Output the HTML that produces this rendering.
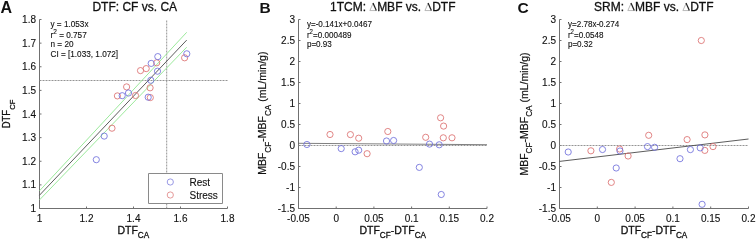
<!DOCTYPE html>
<html><head><meta charset="utf-8"><style>
html,body{margin:0;padding:0;background:#fff;width:756px;height:240px;overflow:hidden;position:relative}
svg{will-change:transform;-webkit-font-smoothing:antialiased}
</style></head><body>
<svg width="756" height="240" viewBox="0 0 756 240" style="position:absolute;left:0;top:0">
<rect width="756" height="240" fill="#fff"/>
<g font-family='"Liberation Sans", sans-serif' fill="#111" stroke-linejoin="round">
<path d="M39.5 19.5 V208.5 H227.5" fill="none" stroke="#707070" stroke-width="1"/>
<path d="M39.5 208.5 v-2" stroke="#707070" stroke-width="1"/>
<text x="39.50" y="221.50" font-size="10" text-anchor="middle" stroke="#111" stroke-width="0.12" >1</text>
<path d="M86.5 208.5 v-2" stroke="#707070" stroke-width="1"/>
<text x="86.50" y="221.50" font-size="10" text-anchor="middle" stroke="#111" stroke-width="0.12" >1.2</text>
<path d="M133.5 208.5 v-2" stroke="#707070" stroke-width="1"/>
<text x="133.50" y="221.50" font-size="10" text-anchor="middle" stroke="#111" stroke-width="0.12" >1.4</text>
<path d="M180.5 208.5 v-2" stroke="#707070" stroke-width="1"/>
<text x="180.50" y="221.50" font-size="10" text-anchor="middle" stroke="#111" stroke-width="0.12" >1.6</text>
<path d="M227.5 208.5 v-2" stroke="#707070" stroke-width="1"/>
<text x="227.50" y="221.50" font-size="10" text-anchor="middle" stroke="#111" stroke-width="0.12" >1.8</text>
<path d="M39.5 208.5 h2" stroke="#707070" stroke-width="1"/>
<text x="36.00" y="212.10" font-size="10" text-anchor="end" stroke="#111" stroke-width="0.12" >1</text>
<path d="M39.5 184.87499999999997 h2" stroke="#707070" stroke-width="1"/>
<text x="36.00" y="188.47" font-size="10" text-anchor="end" stroke="#111" stroke-width="0.12" >1.1</text>
<path d="M39.5 161.25 h2" stroke="#707070" stroke-width="1"/>
<text x="36.00" y="164.85" font-size="10" text-anchor="end" stroke="#111" stroke-width="0.12" >1.2</text>
<path d="M39.5 137.625 h2" stroke="#707070" stroke-width="1"/>
<text x="36.00" y="141.22" font-size="10" text-anchor="end" stroke="#111" stroke-width="0.12" >1.3</text>
<path d="M39.5 114.00000000000003 h2" stroke="#707070" stroke-width="1"/>
<text x="36.00" y="117.60" font-size="10" text-anchor="end" stroke="#111" stroke-width="0.12" >1.4</text>
<path d="M39.5 90.375 h2" stroke="#707070" stroke-width="1"/>
<text x="36.00" y="93.97" font-size="10" text-anchor="end" stroke="#111" stroke-width="0.12" >1.5</text>
<path d="M39.5 66.74999999999997 h2" stroke="#707070" stroke-width="1"/>
<text x="36.00" y="70.35" font-size="10" text-anchor="end" stroke="#111" stroke-width="0.12" >1.6</text>
<path d="M39.5 43.12499999999997 h2" stroke="#707070" stroke-width="1"/>
<text x="36.00" y="46.72" font-size="10" text-anchor="end" stroke="#111" stroke-width="0.12" >1.7</text>
<path d="M39.5 19.5 h2" stroke="#707070" stroke-width="1"/>
<text x="36.00" y="23.10" font-size="10" text-anchor="end" stroke="#111" stroke-width="0.12" >1.8</text>
<path d="M166.7 208.5 V19.5" stroke="#888" stroke-width="0.9" stroke-dasharray="2,1"/>
<path d="M39.5 80.5 H227.5" stroke="#888" stroke-width="0.9" stroke-dasharray="2,1"/>
<path d="M39.5 195.2 L186.7 40.1" stroke="#4a4a4a" stroke-width="0.9" fill="none"/>
<path d="M39.5 190.8 L186.7 32.3" stroke="#90e690" stroke-width="0.9" fill="none"/>
<path d="M39.5 199.9 L186.7 47.2" stroke="#90e690" stroke-width="0.9" fill="none"/>
<circle cx="156.70" cy="62.80" r="3.1" fill="none" stroke="#dc7070" stroke-width="0.85"/>
<circle cx="146.20" cy="68.60" r="3.1" fill="none" stroke="#dc7070" stroke-width="0.85"/>
<circle cx="140.50" cy="70.60" r="3.1" fill="none" stroke="#dc7070" stroke-width="0.85"/>
<circle cx="150.10" cy="87.80" r="3.1" fill="none" stroke="#dc7070" stroke-width="0.85"/>
<circle cx="126.60" cy="86.90" r="3.1" fill="none" stroke="#dc7070" stroke-width="0.85"/>
<circle cx="117.40" cy="95.90" r="3.1" fill="none" stroke="#dc7070" stroke-width="0.85"/>
<circle cx="135.50" cy="95.50" r="3.1" fill="none" stroke="#dc7070" stroke-width="0.85"/>
<circle cx="150.30" cy="97.60" r="3.1" fill="none" stroke="#dc7070" stroke-width="0.85"/>
<circle cx="112.00" cy="128.20" r="3.1" fill="none" stroke="#dc7070" stroke-width="0.85"/>
<circle cx="184.60" cy="57.80" r="3.1" fill="none" stroke="#dc7070" stroke-width="0.85"/>
<circle cx="157.80" cy="56.60" r="3.1" fill="none" stroke="#7070dc" stroke-width="0.85"/>
<circle cx="151.20" cy="63.40" r="3.1" fill="none" stroke="#7070dc" stroke-width="0.85"/>
<circle cx="157.50" cy="71.20" r="3.1" fill="none" stroke="#7070dc" stroke-width="0.85"/>
<circle cx="150.80" cy="80.30" r="3.1" fill="none" stroke="#7070dc" stroke-width="0.85"/>
<circle cx="128.50" cy="93.00" r="3.1" fill="none" stroke="#7070dc" stroke-width="0.85"/>
<circle cx="122.20" cy="95.70" r="3.1" fill="none" stroke="#7070dc" stroke-width="0.85"/>
<circle cx="148.20" cy="97.20" r="3.1" fill="none" stroke="#7070dc" stroke-width="0.85"/>
<circle cx="104.20" cy="136.10" r="3.1" fill="none" stroke="#7070dc" stroke-width="0.85"/>
<circle cx="96.30" cy="159.70" r="3.1" fill="none" stroke="#7070dc" stroke-width="0.85"/>
<circle cx="186.80" cy="53.80" r="3.1" fill="none" stroke="#7070dc" stroke-width="0.85"/>
<text x="50.50" y="27.30" font-size="8.2" text-anchor="start" stroke="#111" stroke-width="0.12" >y = 1.053x</text>
<text x="50.50" y="37.70" font-size="8.2" text-anchor="start" stroke="#111" stroke-width="0.12" >r<tspan dy="-3.3" font-size="6.5">2</tspan><tspan dy="3.3"> = 0.757</tspan></text>
<text x="50.50" y="47.30" font-size="8.2" text-anchor="start" stroke="#111" stroke-width="0.12" >n = 20</text>
<text x="50.50" y="56.90" font-size="8.2" text-anchor="start" stroke="#111" stroke-width="0.12" >CI = [1.033, 1.072]</text>
<rect x="148.5" y="173.5" width="74" height="30" fill="#fff" stroke="#8a8a8a" stroke-width="1"/>
<circle cx="170.30" cy="182.00" r="3.1" fill="none" stroke="#8888e0" stroke-width="0.85"/>
<circle cx="170.30" cy="195.00" r="3.1" fill="none" stroke="#e08888" stroke-width="0.85"/>
<text x="189.50" y="185.80" font-size="10" text-anchor="start" stroke="#111" stroke-width="0.12" >Rest</text>
<text x="189.50" y="198.50" font-size="10" text-anchor="start" stroke="#111" stroke-width="0.12" >Stress</text>
<text x="134.80" y="11.30" font-size="12" text-anchor="middle" stroke="#111" stroke-width="0.3" >DTF: CF vs. CA</text>
<text x="0.6" y="13.0" font-size="16" font-weight="bold">A</text>
<text x="133.3" y="233.8" font-size="10.5" text-anchor="middle" stroke="#111" stroke-width="0.3">DTF<tspan dy="4.6" font-size="8.2">CA</tspan></text>
<text transform="translate(10,114.0) rotate(-90) scale(0.95,1)" font-size="10" text-anchor="middle" stroke="#111" stroke-width="0.3">DTF<tspan dy="4.5" font-size="8">CF</tspan></text>
<path d="M298.5 19.5 V208.5 H487.0" fill="none" stroke="#707070" stroke-width="1"/>
<path d="M298.5 208.5 v-2" stroke="#707070" stroke-width="1"/>
<text x="298.50" y="221.50" font-size="10" text-anchor="middle" stroke="#111" stroke-width="0.12" >-0.05</text>
<path d="M336.2 208.5 v-2" stroke="#707070" stroke-width="1"/>
<text x="336.20" y="221.50" font-size="10" text-anchor="middle" stroke="#111" stroke-width="0.12" >0</text>
<path d="M373.9 208.5 v-2" stroke="#707070" stroke-width="1"/>
<text x="373.90" y="221.50" font-size="10" text-anchor="middle" stroke="#111" stroke-width="0.12" >0.05</text>
<path d="M411.6 208.5 v-2" stroke="#707070" stroke-width="1"/>
<text x="411.60" y="221.50" font-size="10" text-anchor="middle" stroke="#111" stroke-width="0.12" >0.1</text>
<path d="M449.3 208.5 v-2" stroke="#707070" stroke-width="1"/>
<text x="449.30" y="221.50" font-size="10" text-anchor="middle" stroke="#111" stroke-width="0.12" >0.15</text>
<path d="M487.0 208.5 v-2" stroke="#707070" stroke-width="1"/>
<text x="487.00" y="221.50" font-size="10" text-anchor="middle" stroke="#111" stroke-width="0.12" >0.2</text>
<path d="M298.5 208.5 h2" stroke="#707070" stroke-width="1"/>
<text x="295.00" y="212.10" font-size="10" text-anchor="end" stroke="#111" stroke-width="0.12" >-1.5</text>
<path d="M298.5 187.5 h2" stroke="#707070" stroke-width="1"/>
<text x="295.00" y="191.10" font-size="10" text-anchor="end" stroke="#111" stroke-width="0.12" >-1</text>
<path d="M298.5 166.5 h2" stroke="#707070" stroke-width="1"/>
<text x="295.00" y="170.10" font-size="10" text-anchor="end" stroke="#111" stroke-width="0.12" >-0.5</text>
<path d="M298.5 145.5 h2" stroke="#707070" stroke-width="1"/>
<text x="295.00" y="149.10" font-size="10" text-anchor="end" stroke="#111" stroke-width="0.12" >0</text>
<path d="M298.5 124.5 h2" stroke="#707070" stroke-width="1"/>
<text x="295.00" y="128.10" font-size="10" text-anchor="end" stroke="#111" stroke-width="0.12" >0.5</text>
<path d="M298.5 103.5 h2" stroke="#707070" stroke-width="1"/>
<text x="295.00" y="107.10" font-size="10" text-anchor="end" stroke="#111" stroke-width="0.12" >1</text>
<path d="M298.5 82.5 h2" stroke="#707070" stroke-width="1"/>
<text x="295.00" y="86.10" font-size="10" text-anchor="end" stroke="#111" stroke-width="0.12" >1.5</text>
<path d="M298.5 61.5 h2" stroke="#707070" stroke-width="1"/>
<text x="295.00" y="65.10" font-size="10" text-anchor="end" stroke="#111" stroke-width="0.12" >2</text>
<path d="M298.5 40.5 h2" stroke="#707070" stroke-width="1"/>
<text x="295.00" y="44.10" font-size="10" text-anchor="end" stroke="#111" stroke-width="0.12" >2.5</text>
<path d="M298.5 19.5 h2" stroke="#707070" stroke-width="1"/>
<text x="295.00" y="23.10" font-size="10" text-anchor="end" stroke="#111" stroke-width="0.12" >3</text>
<path d="M298.5 145.50 H487.0" stroke="#888" stroke-width="0.9" stroke-dasharray="2,1"/>
<path d="M298.5 143.3 L487.0 144.7" stroke="#555" stroke-width="0.75" fill="none"/>
<circle cx="330.00" cy="134.50" r="3.1" fill="none" stroke="#dc7070" stroke-width="0.85"/>
<circle cx="350.40" cy="134.60" r="3.1" fill="none" stroke="#dc7070" stroke-width="0.85"/>
<circle cx="358.70" cy="138.20" r="3.1" fill="none" stroke="#dc7070" stroke-width="0.85"/>
<circle cx="367.10" cy="153.70" r="3.1" fill="none" stroke="#dc7070" stroke-width="0.85"/>
<circle cx="387.80" cy="131.50" r="3.1" fill="none" stroke="#dc7070" stroke-width="0.85"/>
<circle cx="425.70" cy="137.30" r="3.1" fill="none" stroke="#dc7070" stroke-width="0.85"/>
<circle cx="440.60" cy="117.80" r="3.1" fill="none" stroke="#dc7070" stroke-width="0.85"/>
<circle cx="443.60" cy="126.10" r="3.1" fill="none" stroke="#dc7070" stroke-width="0.85"/>
<circle cx="443.30" cy="137.80" r="3.1" fill="none" stroke="#dc7070" stroke-width="0.85"/>
<circle cx="452.00" cy="137.80" r="3.1" fill="none" stroke="#dc7070" stroke-width="0.85"/>
<circle cx="306.90" cy="144.50" r="3.1" fill="none" stroke="#7070dc" stroke-width="0.85"/>
<circle cx="341.20" cy="148.60" r="3.1" fill="none" stroke="#7070dc" stroke-width="0.85"/>
<circle cx="355.10" cy="151.80" r="3.1" fill="none" stroke="#7070dc" stroke-width="0.85"/>
<circle cx="358.70" cy="150.20" r="3.1" fill="none" stroke="#7070dc" stroke-width="0.85"/>
<circle cx="386.50" cy="141.00" r="3.1" fill="none" stroke="#7070dc" stroke-width="0.85"/>
<circle cx="393.60" cy="140.50" r="3.1" fill="none" stroke="#7070dc" stroke-width="0.85"/>
<circle cx="429.50" cy="144.10" r="3.1" fill="none" stroke="#7070dc" stroke-width="0.85"/>
<circle cx="439.20" cy="144.80" r="3.1" fill="none" stroke="#7070dc" stroke-width="0.85"/>
<circle cx="419.30" cy="167.40" r="3.1" fill="none" stroke="#7070dc" stroke-width="0.85"/>
<circle cx="441.25" cy="194.50" r="3.1" fill="none" stroke="#7070dc" stroke-width="0.85"/>
<g transform="translate(306.90,27.0) scale(0.9300,1)"><text x="0" y="0" font-size="8.7" stroke="#111" stroke-width="0.12">y=-0.141x+0.0467</text></g>
<g transform="translate(306.90,37.6) scale(0.9300,1)"><text x="0" y="0" font-size="8.7" stroke="#111" stroke-width="0.12">r<tspan dy="-3.3" font-size="6.5">2</tspan><tspan dy="3.3">=0.000489</tspan></text></g>
<g transform="translate(306.90,46.9) scale(0.9300,1)"><text x="0" y="0" font-size="8.7" stroke="#111" stroke-width="0.12">p=0.93</text></g>
<text x="392.80" y="11.30" font-size="12" text-anchor="middle" stroke="#111" stroke-width="0.3" >1TCM: <tspan font-family="Liberation Serif" fill="none" stroke="none">&#916;</tspan>MBF vs. <tspan font-family="Liberation Serif" fill="none" stroke="none">&#916;</tspan>DTF</text>
<text x="259.5" y="13.2" font-size="15.5" font-weight="bold">B</text>
<text x="392.75" y="233.8" font-size="10.5" text-anchor="middle" stroke="#111" stroke-width="0.3">DTF<tspan dy="4.6" font-size="8.2">CF</tspan><tspan dy="-4.6">-DTF</tspan><tspan dy="4.6" font-size="8.2">CA</tspan></text>
<text transform="translate(266.0,113.2) rotate(-90)" font-size="10.5" text-anchor="middle" stroke="#111" stroke-width="0.2">MBF<tspan dy="4.6" font-size="8.2">CF</tspan><tspan dy="-4.6">-MBF</tspan><tspan dy="4.6" font-size="8.2">CA</tspan><tspan dy="-4.6"> (mL/min/g)</tspan></text>
<path d="M559.5 19.5 V208.5 H748.5" fill="none" stroke="#707070" stroke-width="1"/>
<path d="M559.5 208.5 v-2" stroke="#707070" stroke-width="1"/>
<text x="559.50" y="221.50" font-size="10" text-anchor="middle" stroke="#111" stroke-width="0.12" >-0.05</text>
<path d="M597.3 208.5 v-2" stroke="#707070" stroke-width="1"/>
<text x="597.30" y="221.50" font-size="10" text-anchor="middle" stroke="#111" stroke-width="0.12" >0</text>
<path d="M635.1 208.5 v-2" stroke="#707070" stroke-width="1"/>
<text x="635.10" y="221.50" font-size="10" text-anchor="middle" stroke="#111" stroke-width="0.12" >0.05</text>
<path d="M672.9 208.5 v-2" stroke="#707070" stroke-width="1"/>
<text x="672.90" y="221.50" font-size="10" text-anchor="middle" stroke="#111" stroke-width="0.12" >0.1</text>
<path d="M710.7 208.5 v-2" stroke="#707070" stroke-width="1"/>
<text x="710.70" y="221.50" font-size="10" text-anchor="middle" stroke="#111" stroke-width="0.12" >0.15</text>
<path d="M748.5 208.5 v-2" stroke="#707070" stroke-width="1"/>
<text x="748.50" y="221.50" font-size="10" text-anchor="middle" stroke="#111" stroke-width="0.12" >0.2</text>
<path d="M559.5 208.5 h2" stroke="#707070" stroke-width="1"/>
<text x="556.00" y="212.10" font-size="10" text-anchor="end" stroke="#111" stroke-width="0.12" >-1.5</text>
<path d="M559.5 187.5 h2" stroke="#707070" stroke-width="1"/>
<text x="556.00" y="191.10" font-size="10" text-anchor="end" stroke="#111" stroke-width="0.12" >-1</text>
<path d="M559.5 166.5 h2" stroke="#707070" stroke-width="1"/>
<text x="556.00" y="170.10" font-size="10" text-anchor="end" stroke="#111" stroke-width="0.12" >-0.5</text>
<path d="M559.5 145.5 h2" stroke="#707070" stroke-width="1"/>
<text x="556.00" y="149.10" font-size="10" text-anchor="end" stroke="#111" stroke-width="0.12" >0</text>
<path d="M559.5 124.5 h2" stroke="#707070" stroke-width="1"/>
<text x="556.00" y="128.10" font-size="10" text-anchor="end" stroke="#111" stroke-width="0.12" >0.5</text>
<path d="M559.5 103.5 h2" stroke="#707070" stroke-width="1"/>
<text x="556.00" y="107.10" font-size="10" text-anchor="end" stroke="#111" stroke-width="0.12" >1</text>
<path d="M559.5 82.5 h2" stroke="#707070" stroke-width="1"/>
<text x="556.00" y="86.10" font-size="10" text-anchor="end" stroke="#111" stroke-width="0.12" >1.5</text>
<path d="M559.5 61.5 h2" stroke="#707070" stroke-width="1"/>
<text x="556.00" y="65.10" font-size="10" text-anchor="end" stroke="#111" stroke-width="0.12" >2</text>
<path d="M559.5 40.5 h2" stroke="#707070" stroke-width="1"/>
<text x="556.00" y="44.10" font-size="10" text-anchor="end" stroke="#111" stroke-width="0.12" >2.5</text>
<path d="M559.5 19.5 h2" stroke="#707070" stroke-width="1"/>
<text x="556.00" y="23.10" font-size="10" text-anchor="end" stroke="#111" stroke-width="0.12" >3</text>
<path d="M559.5 145.50 H748.5" stroke="#888" stroke-width="0.9" stroke-dasharray="2,1"/>
<path d="M559.5 161.4 L748.5 139.0" stroke="#4a4a4a" stroke-width="0.9" fill="none"/>
<circle cx="590.90" cy="150.80" r="3.1" fill="none" stroke="#dc7070" stroke-width="0.85"/>
<circle cx="619.60" cy="149.00" r="3.1" fill="none" stroke="#dc7070" stroke-width="0.85"/>
<circle cx="628.10" cy="156.00" r="3.1" fill="none" stroke="#dc7070" stroke-width="0.85"/>
<circle cx="611.30" cy="182.40" r="3.1" fill="none" stroke="#dc7070" stroke-width="0.85"/>
<circle cx="648.70" cy="135.30" r="3.1" fill="none" stroke="#dc7070" stroke-width="0.85"/>
<circle cx="687.10" cy="139.60" r="3.1" fill="none" stroke="#dc7070" stroke-width="0.85"/>
<circle cx="701.30" cy="40.50" r="3.1" fill="none" stroke="#dc7070" stroke-width="0.85"/>
<circle cx="704.90" cy="134.90" r="3.1" fill="none" stroke="#dc7070" stroke-width="0.85"/>
<circle cx="713.00" cy="146.60" r="3.1" fill="none" stroke="#dc7070" stroke-width="0.85"/>
<circle cx="704.80" cy="150.40" r="3.1" fill="none" stroke="#dc7070" stroke-width="0.85"/>
<circle cx="568.20" cy="152.00" r="3.1" fill="none" stroke="#7070dc" stroke-width="0.85"/>
<circle cx="602.50" cy="149.50" r="3.1" fill="none" stroke="#7070dc" stroke-width="0.85"/>
<circle cx="620.00" cy="151.00" r="3.1" fill="none" stroke="#7070dc" stroke-width="0.85"/>
<circle cx="616.20" cy="168.00" r="3.1" fill="none" stroke="#7070dc" stroke-width="0.85"/>
<circle cx="647.50" cy="146.60" r="3.1" fill="none" stroke="#7070dc" stroke-width="0.85"/>
<circle cx="654.60" cy="147.30" r="3.1" fill="none" stroke="#7070dc" stroke-width="0.85"/>
<circle cx="680.00" cy="158.70" r="3.1" fill="none" stroke="#7070dc" stroke-width="0.85"/>
<circle cx="690.40" cy="149.60" r="3.1" fill="none" stroke="#7070dc" stroke-width="0.85"/>
<circle cx="700.20" cy="147.90" r="3.1" fill="none" stroke="#7070dc" stroke-width="0.85"/>
<circle cx="702.10" cy="204.30" r="3.1" fill="none" stroke="#7070dc" stroke-width="0.85"/>
<g transform="translate(567.90,27.0) scale(0.9300,1)"><text x="0" y="0" font-size="8.7" stroke="#111" stroke-width="0.12">y=2.78x-0.274</text></g>
<g transform="translate(567.90,37.6) scale(0.9300,1)"><text x="0" y="0" font-size="8.7" stroke="#111" stroke-width="0.12">r<tspan dy="-3.3" font-size="6.5">2</tspan><tspan dy="3.3">=0.0548</tspan></text></g>
<g transform="translate(567.90,46.9) scale(0.9300,1)"><text x="0" y="0" font-size="8.7" stroke="#111" stroke-width="0.12">p=0.32</text></g>
<text x="653.75" y="11.30" font-size="12" text-anchor="middle" stroke="#111" stroke-width="0.3" >SRM: <tspan font-family="Liberation Serif" fill="none" stroke="none">&#916;</tspan>MBF vs. <tspan font-family="Liberation Serif" fill="none" stroke="none">&#916;</tspan>DTF</text>
<text x="517.5" y="13.2" font-size="15.5" font-weight="bold">C</text>
<text x="654.00" y="233.8" font-size="10.5" text-anchor="middle" stroke="#111" stroke-width="0.3">DTF<tspan dy="4.6" font-size="8.2">CF</tspan><tspan dy="-4.6">-DTF</tspan><tspan dy="4.6" font-size="8.2">CA</tspan></text>
<text transform="translate(527.8,114.0) rotate(-90)" font-size="10.5" text-anchor="middle" stroke="#111" stroke-width="0.2">MBF<tspan dy="4.6" font-size="8.2">CF</tspan><tspan dy="-4.6">-MBF</tspan><tspan dy="4.6" font-size="8.2">CA</tspan><tspan dy="-4.6"> (mL/min/g)</tspan></text>
<path d="M369.92 10.5 L373.17 3.2" stroke="#999" stroke-width="0.7" fill="none"/>
<path d="M369.82 10.55 H376.52" stroke="#aaa" stroke-width="0.8" fill="none"/>
<path d="M373.02 2.9 L376.32 10.6" stroke="#222" stroke-width="1.25" fill="none"/>
<path d="M424.98 10.5 L428.23 3.2" stroke="#999" stroke-width="0.7" fill="none"/>
<path d="M424.88 10.55 H431.58" stroke="#aaa" stroke-width="0.8" fill="none"/>
<path d="M428.08 2.9 L431.38 10.6" stroke="#222" stroke-width="1.25" fill="none"/>
<path d="M627.87 10.5 L631.12 3.2" stroke="#999" stroke-width="0.7" fill="none"/>
<path d="M627.77 10.55 H634.47" stroke="#aaa" stroke-width="0.8" fill="none"/>
<path d="M630.97 2.9 L634.27 10.6" stroke="#222" stroke-width="1.25" fill="none"/>
<path d="M682.93 10.5 L686.18 3.2" stroke="#999" stroke-width="0.7" fill="none"/>
<path d="M682.83 10.55 H689.53" stroke="#aaa" stroke-width="0.8" fill="none"/>
<path d="M686.03 2.9 L689.33 10.6" stroke="#222" stroke-width="1.25" fill="none"/>
</g></svg>
</body></html>
